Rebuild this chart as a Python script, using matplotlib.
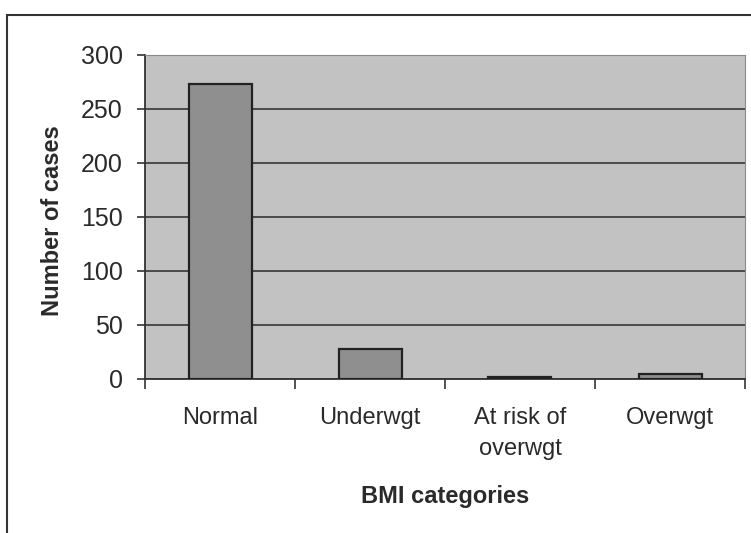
import matplotlib
matplotlib.use("Agg")
import matplotlib.pyplot as plt
from matplotlib.patches import Rectangle

categories = ["Normal", "Underwgt", "At risk of\noverwgt", "Overwgt"]
cases = [273, 28, 2, 5]
y_ticks = [0, 50, 100, 150, 200, 250, 300]

plt.rcParams["font.family"] = ["Liberation Sans", "DejaVu Sans"]

fig = plt.figure(figsize=(7.51, 5.33), dpi=100)
fig.patch.set_facecolor("white")

# outer chart frame
fig.patches.append(Rectangle((7 / 751, -0.02), 1.0, 1 - 15 / 533 + 0.02,
                             transform=fig.transFigure, fill=False,
                             edgecolor="#333333", linewidth=1.5))

ax = fig.add_axes([145 / 751, 1 - 379 / 533, 600 / 751, 324 / 533])
ax.set_facecolor("#c2c2c2")

x = range(len(categories))
ax.bar(x, cases, width=0.42, color="#8f8f8f", edgecolor="#222222",
       linewidth=1.6, zorder=3)

ax.set_xlim(-0.5, len(categories) - 0.5)
ax.set_ylim(0, 300)
ax.set_yticks(y_ticks)
ax.set_yticklabels([str(v) for v in y_ticks], fontsize=18, color="#2a2a2a")
ax.yaxis.grid(True, color="#2a2a2a", linewidth=1.1, zorder=1)
ax.set_axisbelow(True)

ax.set_xticks([i + 0.5 for i in range(-1, len(categories))], minor=False)
ax.set_xticklabels([])
ax.set_xticks(list(x), minor=True)
ax.set_xticklabels(categories, minor=True, fontsize=17, linespacing=1.55,
                   color="#2a2a2a")
ax.tick_params(axis="x", which="minor", length=0, pad=20)
ax.tick_params(axis="x", which="major", length=7, direction="out",
               color="#333333", width=1.2)
ax.tick_params(axis="y", length=6, direction="out", color="#333333",
               width=1.2, pad=10)

for side in ["left", "bottom"]:
    ax.spines[side].set_color("#333333")
    ax.spines[side].set_linewidth(1.3)
for side in ["top", "right"]:
    ax.spines[side].set_color("#8a8a8a")
    ax.spines[side].set_linewidth(0.8)

ax.set_ylabel("Number of cases", fontsize=17, fontweight="bold",
              color="#2a2a2a")
ax.yaxis.set_label_coords(-93 / 600, 0.49)
ax.yaxis.label.set_va("center")
ax.set_xlabel("BMI categories", fontsize=17, fontweight="bold",
              color="#2a2a2a")
ax.xaxis.set_label_coords(0.5, -117 / 324)
ax.xaxis.label.set_va("center")

fig.savefig("out.png", dpi=100)
